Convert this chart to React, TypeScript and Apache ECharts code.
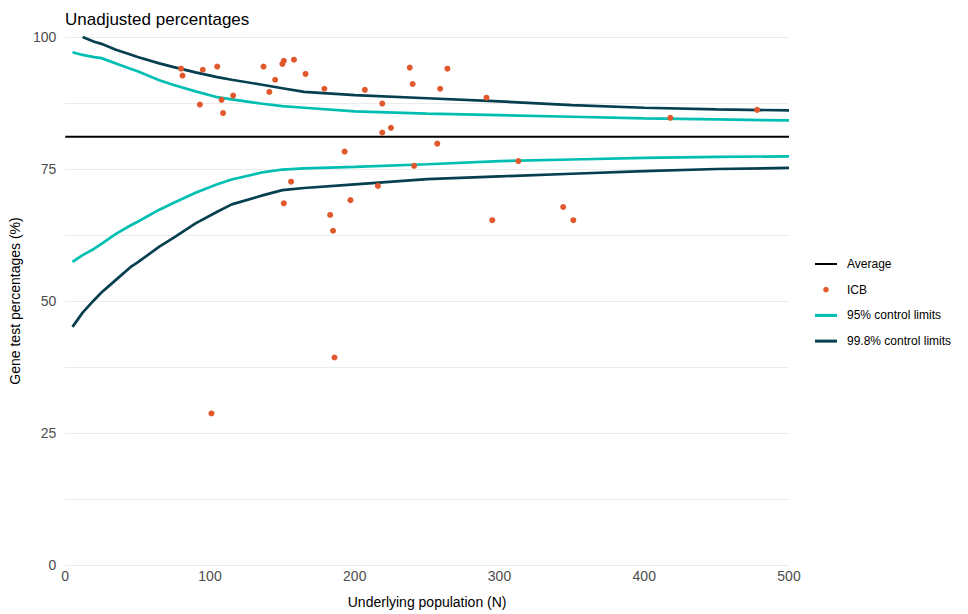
import React, { useEffect, useRef } from "react";
import * as echarts from "echarts";

// ICB observations: underlying population (N) and gene test percentage (%)
const icbN = [80, 81, 93, 95, 101, 105, 108, 109, 116, 137, 141, 145, 150, 151, 151, 156, 158, 166, 179, 183, 185, 186, 193, 197, 207, 216, 219, 219, 225, 238, 240, 241, 257, 259, 264, 291, 295, 313, 344, 351, 418, 478];
const icbPct = [94.0, 92.7, 87.2, 93.8, 28.7, 94.4, 88.1, 85.6, 88.9, 94.4, 89.6, 91.9, 94.9, 95.5, 68.5, 72.6, 95.7, 93.0, 90.2, 66.3, 63.3, 39.3, 78.3, 69.1, 90.0, 71.8, 81.9, 87.4, 82.8, 94.2, 91.1, 75.6, 79.8, 90.2, 94.0, 88.5, 65.3, 76.5, 67.8, 65.3, 84.7, 86.2];

// Overall average percentage
const averagePct = 81.1;

// Funnel control limits evaluated along N
const limitN = [5, 12, 20, 25, 35, 45, 50, 65, 75, 90, 105, 115, 135, 150, 165, 200, 250, 300, 350, 400, 450, 500];
const upper998 = [null, 100, 99.1, 98.7, 97.6, 96.7, 96.2, 95.0, 94.3, 93.3, 92.4, 91.9, 91.0, 90.3, 89.6, 89.0, 88.4, 87.8, 87.1, 86.6, 86.3, 86.1];
const upper95 = [97.1, 96.6, 96.2, 96.0, 95.0, 94.0, 93.5, 91.8, 90.9, 89.7, 88.6, 88.2, 87.4, 86.9, 86.6, 85.9, 85.5, 85.2, 84.9, 84.6, 84.4, 84.2];
const lower95 = [57.4, 58.7, 59.9, 60.8, 62.7, 64.3, 65.0, 67.3, 68.6, 70.5, 72.1, 73.0, 74.3, 74.9, 75.1, 75.4, 75.9, 76.5, 76.8, 77.1, 77.3, 77.4];
const lower998 = [45.1, 47.8, 50.2, 51.6, 54.0, 56.4, 57.3, 60.3, 62.0, 64.7, 66.9, 68.3, 69.9, 71.0, 71.4, 72.1, 73.1, 73.6, 74.1, 74.6, 75.0, 75.2];

const xTicks = { min: 0, max: 500, step: 100 };
const yTicks = { min: 0, max: 100, step: 12.5, labelStep: 25 };

const legendLabels = ["Average", "ICB", "95% control limits", "99.8% control limits"];

const COL_AVG = "#000000";
const COL_ICB = "#e0582b";
const COL_95 = "#00bfb2";
const COL_998 = "#063f4f";
const FONT = "Liberation Sans, Arial, sans-serif";

const pairs = (xs: number[], ys: (number | null)[]) =>
  xs.map((x, i) => [x, ys[i]]);

// Legend key drawn as plain graphics: a line or a dot, then its label
function legendGraphics() {
  const keys = [
    { kind: "line", color: COL_AVG, width: 2 },
    { kind: "dot", color: COL_ICB },
    { kind: "line", color: COL_95, width: 3 },
    { kind: "line", color: COL_998, width: 3 },
  ];
  const x0 = 815;
  const y0 = 264;
  const gap = 25.7;
  const els: any[] = [];
  keys.forEach((k, i) => {
    const cy = y0 + i * gap;
    if (k.kind === "line") {
      els.push({
        type: "line",
        shape: { x1: x0, y1: cy, x2: x0 + 22, y2: cy },
        style: { stroke: k.color, lineWidth: k.width },
      });
    } else {
      els.push({
        type: "circle",
        shape: { cx: x0 + 11, cy, r: 2.8 },
        style: { fill: k.color },
      });
    }
    els.push({
      type: "text",
      x: x0 + 32,
      y: cy,
      style: {
        text: legendLabels[i],
        fill: "#000",
        font: `12px ${FONT}`,
        verticalAlign: "middle",
        align: "left",
      },
    });
  });
  return els;
}

export default function App() {
  const ref = useRef<HTMLDivElement>(null);

  useEffect(() => {
    if (!ref.current) return;
    const chart = echarts.init(ref.current, null, { renderer: "svg" });

    const limitLine = (name: string, color: string, ys: (number | null)[]) => ({
      name,
      type: "line",
      data: pairs(limitN, ys),
      showSymbol: false,
      symbol: "none",
      connectNulls: false,
      lineStyle: { color, width: 2.7 },
      itemStyle: { color },
      z: 2,
    });

    chart.setOption({
      animation: false,
      backgroundColor: "#ffffff",
      textStyle: { fontFamily: FONT },
      title: {
        text: "Unadjusted percentages",
        left: 60,
        top: 6,
        textStyle: { fontFamily: FONT, fontSize: 17, fontWeight: "normal", color: "#000" },
      },
      grid: { left: 64, right: 179, top: 37, bottom: 46, containLabel: false },
      graphic: legendGraphics(),
      xAxis: {
        type: "value",
        min: xTicks.min,
        max: xTicks.max,
        interval: xTicks.step,
        name: "Underlying population (N)",
        nameLocation: "middle",
        nameGap: 30,
        nameTextStyle: { fontFamily: FONT, fontSize: 14, color: "#000" },
        axisLine: { show: false },
        axisTick: { show: false },
        splitLine: { show: false },
        axisLabel: { fontFamily: FONT, fontSize: 14, color: "#4d4d4d", margin: 4 },
      },
      yAxis: {
        type: "value",
        min: yTicks.min,
        max: yTicks.max,
        interval: yTicks.step,
        name: "Gene test percentages (%)",
        nameLocation: "middle",
        nameGap: 41,
        nameTextStyle: { fontFamily: FONT, fontSize: 14, color: "#000" },
        axisLine: { show: false },
        axisTick: { show: false },
        splitLine: { show: true, lineStyle: { color: "#ebebeb", width: 1 } },
        axisLabel: {
          fontFamily: FONT,
          fontSize: 14,
          color: "#4d4d4d",
          margin: 9,
          formatter: (v: number) => (v % yTicks.labelStep === 0 ? String(v) : ""),
        },
      },
      series: [
        {
          name: "Average",
          type: "line",
          data: [[xTicks.min, averagePct], [xTicks.max, averagePct]],
          showSymbol: false,
          symbol: "none",
          lineStyle: { color: COL_AVG, width: 2 },
          itemStyle: { color: COL_AVG },
          z: 3,
        },
        {
          name: "ICB",
          type: "scatter",
          data: pairs(icbN, icbPct),
          symbol: "circle",
          symbolSize: 6,
          itemStyle: { color: COL_ICB, opacity: 1 },
          z: 4,
        },
        limitLine("95% control limits", COL_95, upper95),
        limitLine("95% control limits", COL_95, lower95),
        limitLine("99.8% control limits", COL_998, upper998),
        limitLine("99.8% control limits", COL_998, lower998),
      ],
    });

    return () => chart.dispose();
  }, []);

  return <div ref={ref} style={{ width: 968, height: 614, position: "absolute", left: 0, top: 0 }} />;
}
